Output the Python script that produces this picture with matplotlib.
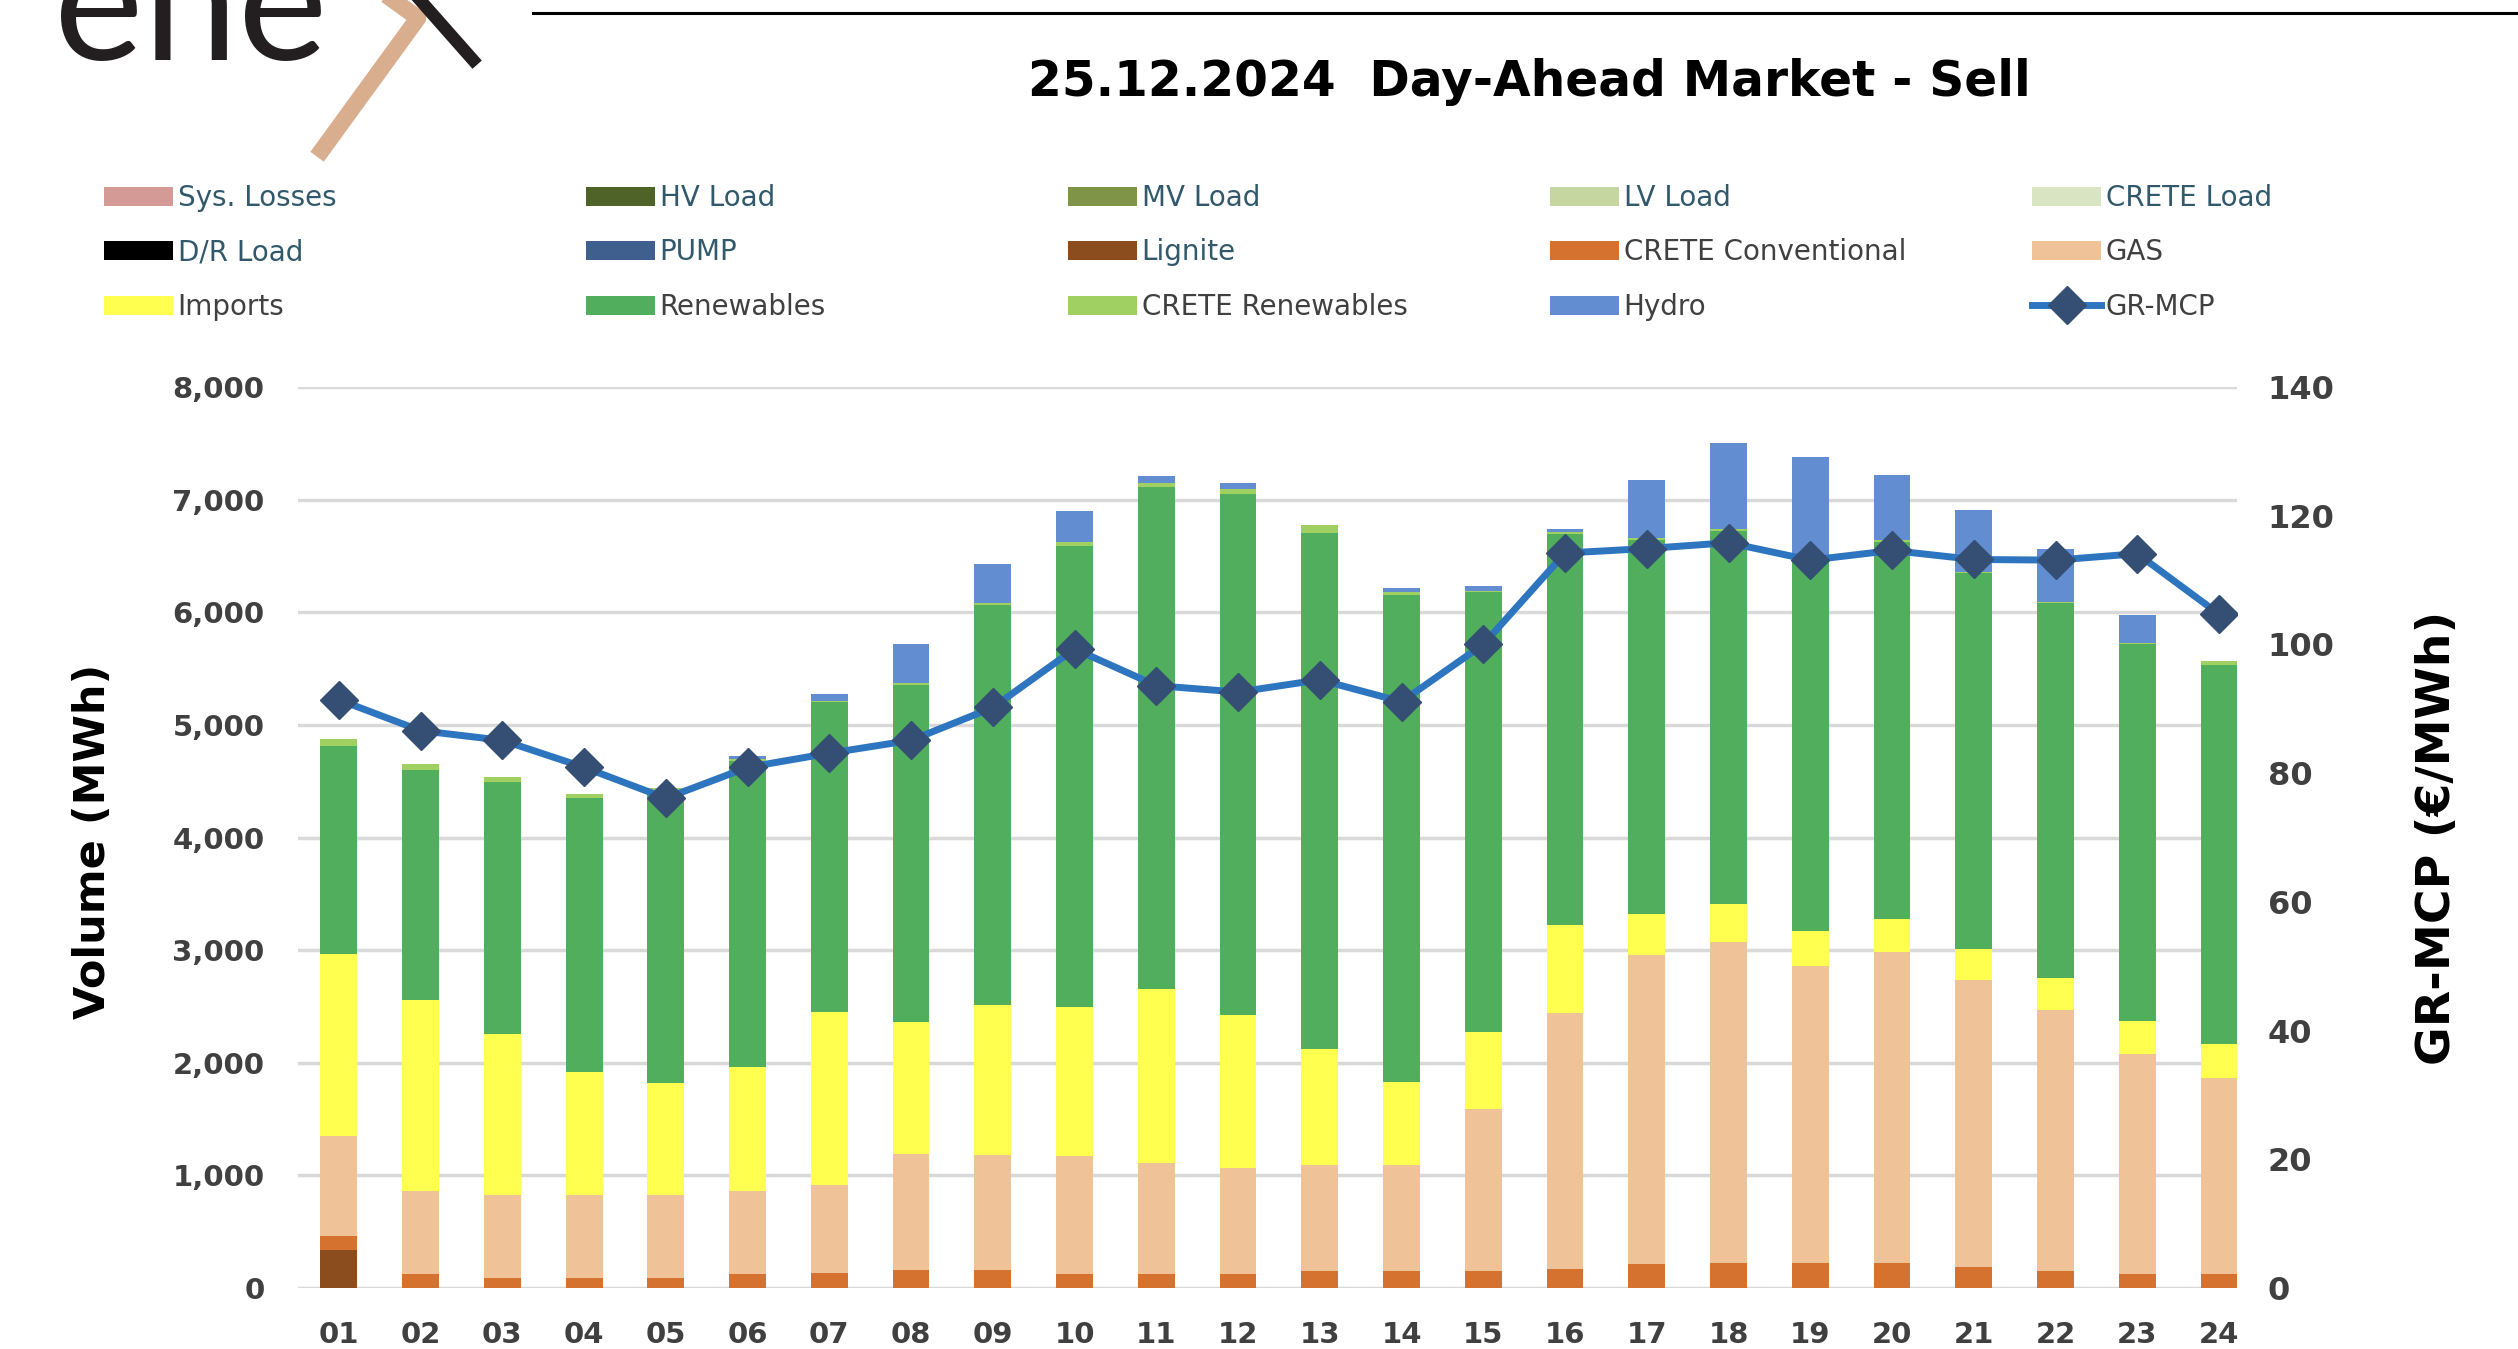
import matplotlib
matplotlib.use("Agg")
import matplotlib.pyplot as plt
import numpy as np
from matplotlib.lines import Line2D

# Hours of the day
hours = ["01", "02", "03", "04", "05", "06", "07", "08", "09", "10", "11", "12",
         "13", "14", "15", "16", "17", "18", "19", "20", "21", "22", "23", "24"]

# Sell-side volumes (MWh), stacked bottom to top
lignite = [334, 0, 0, 0, 0, 0, 0, 0, 0, 0, 0, 0, 0, 0, 0, 0, 0, 0, 0, 0, 0, 0, 0, 0]
crete_conv = [130, 121, 89, 89, 89, 127, 136, 163, 160, 127, 127, 127,
              154, 151, 151, 166, 216, 225, 225, 225, 189, 154, 127, 127]
gas = [888, 744, 740, 740, 740, 738, 779, 1024, 1021, 1048, 980, 941,
       941, 941, 1442, 2274, 2741, 2848, 2637, 2759, 2546, 2312, 1948, 1741]
imports = [1614, 1690, 1424, 1089, 989, 1095, 1536, 1173, 1330, 1321, 1551, 1354,
           1025, 736, 683, 781, 362, 340, 308, 293, 273, 284, 299, 296]
renewables = [1850, 2045, 2241, 2431, 2604, 2720, 2750, 2995, 3549, 4094, 4450, 4627,
              4588, 4323, 3902, 3475, 3321, 3310, 3280, 3351, 3339, 3330, 3343, 3369]
crete_ren = [62, 54, 47, 38, 18, 15, 15, 15, 23, 38, 44, 44,
             65, 33, 15, 15, 15, 12, 10, 12, 12, 12, 8, 33]
hydro = [0, 0, 0, 0, 0, 25, 59, 352, 349, 275, 59, 53,
         0, 35, 41, 30, 520, 772, 917, 578, 548, 468, 249, 0]

# load-side series are empty on the sell chart
zeros = [0] * 24

# GR market clearing price (EUR/MWh)
mcp = [91.4, 86.6, 85.1, 80.9, 76.1, 80.9, 83.1, 85.1, 90.2, 99.3, 93.6, 92.6,
       94.5, 91.1, 100.0, 114.2, 114.9, 115.8, 113.1, 114.6, 113.2, 113.1, 114.1, 104.7]

plt.rcParams["font.family"] = ["DejaVu Sans"]

W, H = 2518, 1349
fig = plt.figure(figsize=(W / 100, H / 100), dpi=100)
ax = fig.add_axes([298 / W, 1 - 1288 / H, (2237 - 298) / W, (1288 - 387) / H])
ax2 = ax.twinx()

x = np.arange(len(hours))
w = 0.45

colors = {
    "Sys. Losses": "#D49A96", "HV Load": "#4F6228", "MV Load": "#7F9447",
    "LV Load": "#C5D6A0", "CRETE Load": "#D9E4C2", "D/R Load": "#000000",
    "PUMP": "#3F5F8F", "Lignite": "#8B4C1E", "CRETE Conventional": "#D5722F",
    "GAS": "#F0C298", "Imports": "#FFFF50", "Renewables": "#50AE5C",
    "CRETE Renewables": "#A0CF62", "Hydro": "#638DD1",
}

handles = {}
for name in ["Sys. Losses", "HV Load", "MV Load", "LV Load", "CRETE Load", "D/R Load", "PUMP"]:
    handles[name] = ax.bar(x, zeros, w, color=colors[name], label=name)

bottom = np.zeros(len(hours))
for name, vals in [("Lignite", lignite), ("CRETE Conventional", crete_conv), ("GAS", gas),
                   ("Imports", imports), ("Renewables", renewables),
                   ("CRETE Renewables", crete_ren), ("Hydro", hydro)]:
    handles[name] = ax.bar(x, vals, w, bottom=bottom, color=colors[name], label=name, zorder=2)
    bottom += np.array(vals)

line, = ax2.plot(x, mcp, color="#2E75C0", lw=5, marker="D", markersize=19,
                 markerfacecolor="#344E74", markeredgecolor="#344E74", zorder=5)
handles["GR-MCP"] = line

tick_font = dict(fontsize=21, fontweight="bold", color="#404040")
ax.set_xlim(-0.5, 23.22)
ax.set_ylim(0, 8000)
ax.set_yticks(np.arange(0, 8001, 1000))
ax.set_yticklabels([f"{v:,}" for v in range(0, 8001, 1000)], **tick_font)
ax.set_xticks(x)
ax.set_xticklabels(hours, **tick_font)
ax.tick_params(axis="both", length=0)
ax.tick_params(axis="y", pad=24)
ax.tick_params(axis="x", pad=24)
ax.grid(axis="y", color="#D9D9D9", lw=2.5, zorder=0)
ax.set_axisbelow(True)

ax2.set_ylim(0, 140)
ax2.set_yticks(np.arange(0, 141, 20))
ax2.set_yticklabels([str(v) for v in range(0, 141, 20)], fontsize=23,
                    fontweight="bold", color="#404040")
ax2.tick_params(axis="y", length=0, pad=22)

for a in (ax, ax2):
    for s in a.spines.values():
        s.set_visible(False)

fig.text(93 / W, 1 - 841 / H, "Volume (MWh)", rotation=90, ha="center", va="center",
         fontsize=31, fontweight="bold", color="black")
fig.text(2438 / W, 1 - 838 / H, "GR-MCP (€/MWh)", rotation=90, ha="center", va="center",
         fontsize=34, fontweight="bold", color="black")

fig.text(1529 / W, 1 - 82 / H, "25.12.2024  Day-Ahead Market - Sell", ha="center", va="center",
         fontsize=35, fontweight="bold", color="black")

# legend: 5 columns x 3 rows
cols = [["Sys. Losses", "D/R Load", "Imports"],
        ["HV Load", "PUMP", "Renewables"],
        ["MV Load", "Lignite", "CRETE Renewables"],
        ["LV Load", "CRETE Conventional", "Hydro"],
        ["CRETE Load", "GAS", "GR-MCP"]]
teal = {"Sys. Losses", "HV Load", "MV Load", "LV Load", "CRETE Load", "D/R Load", "PUMP", "Lignite"}
for i, col in enumerate(cols):
    leg = fig.legend([handles[n] for n in col], col, loc="upper left",
                     bbox_to_anchor=((104 + 482 * i) / W, 1 - 184 / H),
                     frameon=False, fontsize=20, borderpad=0, borderaxespad=0,
                     handlelength=2.5, handleheight=0.68, handletextpad=0.15,
                     labelspacing=0.95)
    for t, n in zip(leg.get_texts(), col):
        t.set_color("#31596B" if n in teal else "#404040")

# logo and header rule
fig.text(54 / W, 1 - 60 / H, "ene", fontsize=122, family="Lato", color="#231F20",
         ha="left", va="baseline")
fig.add_artist(Line2D([393 / W, 418 / W, 322 / W], [1, 1 - 18 / H, 1 - 150 / H],
                      transform=fig.transFigure, color="#D9AE8E", lw=12))
fig.add_artist(Line2D([420 / W, 473 / W], [1, 1 - 60 / H],
                      transform=fig.transFigure, color="#231F20", lw=9))
fig.add_artist(Line2D([533 / W, 1], [1 - 13 / H, 1 - 13 / H],
                      transform=fig.transFigure, color="black", lw=2.2))

fig.savefig("out.png", dpi=100)
